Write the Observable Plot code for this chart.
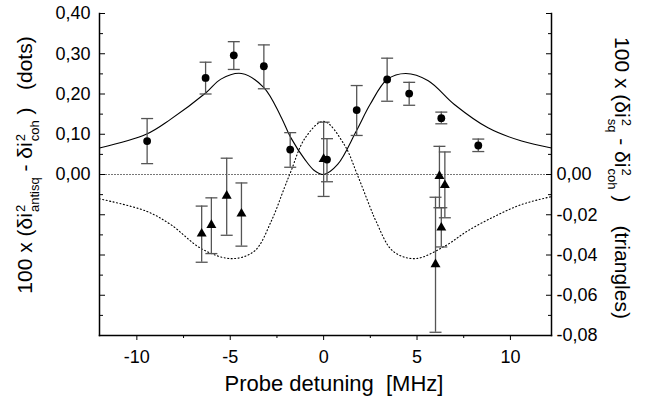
<!DOCTYPE html>
<html><head><meta charset="utf-8">
<script src="https://cdn.jsdelivr.net/npm/d3@7"></script>
<script src="https://cdn.jsdelivr.net/npm/@observablehq/plot@0.6"></script>
<style>
body{margin:0;background:#fff}
#wrap{position:relative;width:662px;height:410px;font-family:"Liberation Sans",Arial,sans-serif;color:#000;overflow:hidden}
.lab{position:absolute;white-space:nowrap;font-size:21px;line-height:22px}
.ss{display:inline-flex;flex-direction:column;font-size:13px;line-height:14px;vertical-align:7px;text-align:left;margin-left:1px}
#yl{left:28px;top:165px;transform:translate(-50%,-50%) rotate(-90deg)}
#yr{left:619px;top:178px;transform:translate(-50%,-50%) rotate(90deg)}
#xl{left:334px;top:384px;transform:translate(-50%,-50%);white-space:pre;font-size:22px}
</style></head>
<body>
<div id="wrap"><div id="chart"></div>
<div class="lab" id="yl">100 x (δi<span class="ss"><span>2</span><span>antisq</span></span> - δi<span class="ss"><span>2</span><span>coh</span></span> )&nbsp;&nbsp;&nbsp;(dots)</div>
<div class="lab" id="yr">100 x (δi<span class="ss"><span>2</span><span>sq</span></span> - δi<span class="ss"><span>2</span><span>coh</span></span> )&nbsp;&nbsp;&nbsp;&nbsp;(triangles)</div>
<div class="lab" id="xl">Probe detuning  [MHz]</div>
</div>
<script>
// Dots (left axis)
const dotX  = [-9.45, -6.32, -4.81, -3.20, -1.79, 0.18, 1.77, 3.40, 4.58, 6.30, 8.28];
const dotY  = [0.083, 0.240, 0.296, 0.269, 0.062, 0.037, 0.160, 0.236, 0.201, 0.140, 0.072];
const dotLo = [0.027, 0.200, 0.261, 0.213, 0.018, -0.018, 0.097, 0.182, 0.172, 0.126, 0.057];
const dotHi = [0.139, 0.279, 0.330, 0.322, 0.104, 0.089, 0.221, 0.289, 0.229, 0.155, 0.088];
// Triangles (right axis)
const triX  = [-6.53, -6.01, -5.19, -4.40, 0.00, 5.99, 6.20, 6.30, 6.49];
const triY  = [-0.0294, -0.0251, -0.0106, -0.0195, 0.0077, -0.0446, -0.0008, -0.0264, -0.0053];
const triLo = [-0.0436, -0.0393, -0.0302, -0.0356, -0.0109, -0.0784, -0.0165, -0.0360, -0.0215];
const triHi = [-0.0157, -0.0116, 0.0081, -0.0042, 0.0260, -0.0113, 0.0140, -0.0165, 0.0112];
// Solid curve (left axis)
const solidX = [-12, -9.5, -8.2, -6.3, -5.5, -4.4, -3.2, -2.3, -1.75, -1.0, -0.5, 0, 0.75, 1.75, 2.5, 3.4, 4.4, 5.6, 7.0, 8.8, 10.6, 12.2];
const solidY = [0.066, 0.100, 0.137, 0.203, 0.237, 0.251, 0.216, 0.145, 0.091, 0.037, 0.010, 0.0, 0.025, 0.108, 0.175, 0.236, 0.251, 0.233, 0.174, 0.116, 0.083, 0.066];
// Dotted curve (right axis)
const dottedX = [-12, -9.5, -8.2, -6.5, -4.9, -3.7, -2.8, -2.1, -1.75, -1.0, 0, 1.1, 1.8, 2.5, 2.8, 3.7, 4.9, 6.5, 7.7, 9.2, 10.6, 12.2];
const dottedY = [-0.0121, -0.0182, -0.0248, -0.0371, -0.0418, -0.038, -0.0231, -0.0066, 0.0016, 0.018, 0.0264, 0.0149, 0.0, -0.0165, -0.0231, -0.038, -0.0418, -0.0355, -0.0281, -0.0206, -0.0149, -0.011];
// Axis ticks
const xTicks = [-10, -5, 0, 5, 10];
const xMinorTicks = [-7.5, -2.5, 2.5, 7.5];
const yLeftTicks = [0, 0.1, 0.2, 0.3, 0.4];
const yRightTicks = [0, -0.02, -0.04, -0.06, -0.08];
const yMajorTicks = [-0.4, -0.3, -0.2, -0.1, 0, 0.1, 0.2, 0.3, 0.4];
const yMinorTicks = [-0.35, -0.25, -0.15, -0.05, 0.05, 0.15, 0.25, 0.35];
const RATIO = 5; // left units per right unit

const fmt = v => (v < -1e-9 ? "-" : "") + Math.abs(v).toFixed(2).replace(".", ",");
const dots = dotX.map((x, i) => ({x, y: dotY[i], lo: dotLo[i], hi: dotHi[i]}));
const tris = triX.map((x, i) => ({x, y: triY[i] * RATIO, lo: triLo[i] * RATIO, hi: triHi[i] * RATIO}));
const solid = solidX.map((x, i) => ({x, y: solidY[i]}));
const dotted = dottedX.map((x, i) => ({x, y: dottedY[i] * RATIO}));
const bars = dots.concat(tris);
const cap = {draw(ctx, size) { const w = Math.sqrt(size / Math.PI); ctx.moveTo(-w, 0); ctx.lineTo(w, 0); }};
const ebColor = "#555";

const chart = Plot.plot({
  width: 662, height: 410,
  marginLeft: 99, marginRight: 111, marginTop: 13, marginBottom: 75,
  style: {fontFamily: "Liberation Sans, Arial, sans-serif", fontSize: "18px", color: "#000", background: "#fff"},
  x: {domain: [-12, 12.2]},
  y: {domain: [-0.4, 0.4]},
  marks: [
    Plot.ruleY([0], {stroke: "#777", strokeWidth: 1, strokeDasharray: "2,1"}),
    Plot.line(solid, {x: "x", y: "y", curve: "catmull-rom", stroke: "#000", strokeWidth: 1.1}),
    Plot.line(dotted, {x: "x", y: "y", curve: "catmull-rom", stroke: "#000", strokeWidth: 1.1, strokeDasharray: "1,2.5"}),
    Plot.ruleX(bars, {x: "x", y1: "lo", y2: "hi", stroke: ebColor, strokeWidth: 1.3}),
    Plot.dot(bars, {x: "x", y: "lo", symbol: cap, r: 6, stroke: ebColor, strokeWidth: 1.3, fill: "none"}),
    Plot.dot(bars, {x: "x", y: "hi", symbol: cap, r: 6, stroke: ebColor, strokeWidth: 1.3, fill: "none"}),
    Plot.dot(dots, {x: "x", y: "y", r: 3.9, fill: "#000", stroke: "none"}),
    Plot.dot(tris, {x: "x", y: "y", symbol: "triangle", r: 3.7, fill: "#000", stroke: "none"}),
    Plot.frame({anchor: "left", stroke: "#000", strokeWidth: 1.5}),
    Plot.frame({anchor: "right", stroke: "#000", strokeWidth: 1.5}),
    Plot.frame({anchor: "bottom", stroke: "#000", strokeWidth: 1.5}),
    Plot.axisY({anchor: "left", ticks: yMajorTicks, tickSize: 6, dx: 6, text: null, label: null}),
    Plot.axisY({anchor: "left", ticks: yMinorTicks, tickSize: 4, dx: 4, text: null, label: null}),
    Plot.axisY({anchor: "right", ticks: yMajorTicks, tickSize: 6, dx: -6, text: null, label: null}),
    Plot.axisY({anchor: "right", ticks: yMinorTicks, tickSize: 4, dx: -4, text: null, label: null}),
    Plot.axisY({anchor: "left", ticks: yLeftTicks, tickSize: 0, tickPadding: 9, tickFormat: fmt, label: null, fontSize: 18}),
    Plot.axisY({anchor: "right", ticks: yRightTicks.map(v => v * RATIO), tickSize: 0, tickPadding: 5, tickFormat: d => fmt(d / RATIO), label: null, fontSize: 18}),
    Plot.axisX({anchor: "bottom", ticks: xTicks, tickSize: 5, tickPadding: 10, tickFormat: d => (d < 0 ? "-" + (-d) : String(d)), label: null, fontSize: 18}),
    Plot.axisX({anchor: "bottom", ticks: xMinorTicks, tickSize: 3, text: null, label: null})
  ]
});
document.getElementById("chart").appendChild(chart);
</script>
</body></html>
